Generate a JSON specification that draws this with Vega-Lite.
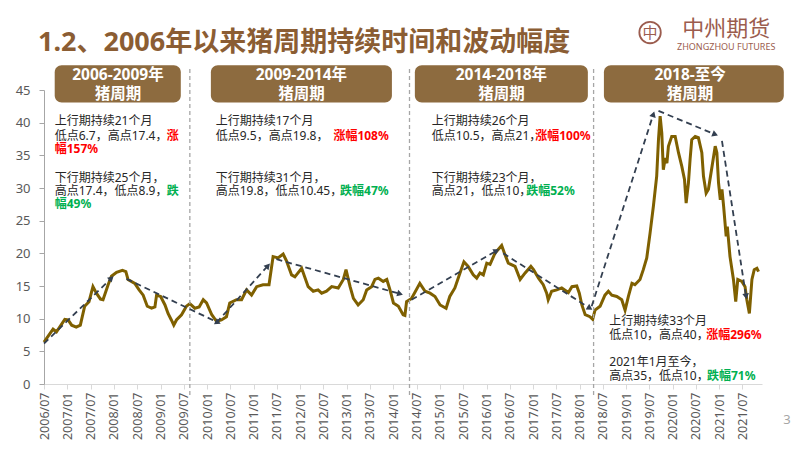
{
  "$schema": "https://vega.github.io/schema/vega-lite/v6.json",
  "width": 718,
  "height": 294,
  "autosize": {"type": "none"},
  "padding": {"left": 44, "top": 90, "right": 40, "bottom": 67},
  "background": "white",
  "config": {"view": {"stroke": null}, "font": "Noto Sans, Noto Sans CJK SC"},
  "title": {"text": "1.2、2006年以来猪周期持续时间和波动幅度", "anchor": "start", "frame": "group", "dx": -6, "offset": -52, "fontSize": 27, "fontWeight": "bold", "color": "#8B5D33", "font": "Noto Sans, Noto Sans CJK SC", "baseline": "middle"},
  "datasets": {
    "price": [
      {"d":"2006-07-01","v":6.4},{"d":"2006-09-10","v":8.4},{"d":"2006-10-07","v":8.0},{"d":"2006-12-11","v":9.9},
      {"d":"2007-01-06","v":9.8},{"d":"2007-02-03","v":9.0},{"d":"2007-03-11","v":8.7},{"d":"2007-04-12","v":9.0},
      {"d":"2007-05-16","v":11.9},{"d":"2007-06-19","v":12.6},{"d":"2007-07-20","v":14.9},{"d":"2007-08-16","v":13.9},
      {"d":"2007-09-17","v":13.0},{"d":"2007-10-07","v":12.9},{"d":"2007-11-16","v":15.2},{"d":"2007-12-12","v":16.5},
      {"d":"2008-01-21","v":17.1},{"d":"2008-03-07","v":17.4},{"d":"2008-04-03","v":17.2},{"d":"2008-04-20","v":16.0},
      {"d":"2008-06-12","v":15.4},{"d":"2008-07-16","v":14.4},{"d":"2008-08-17","v":13.6},{"d":"2008-09-18","v":11.9},
      {"d":"2008-10-22","v":11.6},{"d":"2008-11-17","v":11.8},{"d":"2008-11-30","v":13.6},{"d":"2009-01-01","v":13.4},
      {"d":"2009-02-04","v":12.1},{"d":"2009-02-28","v":10.8},{"d":"2009-03-26","v":9.8},{"d":"2009-04-14","v":9.0},
      {"d":"2009-05-05","v":9.8},{"d":"2009-06-14","v":10.6},{"d":"2009-07-22","v":11.9},{"d":"2009-08-18","v":12.3},
      {"d":"2009-09-26","v":11.6},{"d":"2009-10-30","v":11.8},{"d":"2009-12-01","v":12.9},{"d":"2009-12-27","v":12.4},
      {"d":"2010-02-06","v":10.6},{"d":"2010-03-15","v":9.6},{"d":"2010-04-23","v":9.8},{"d":"2010-06-01","v":10.3},
      {"d":"2010-06-27","v":12.4},{"d":"2010-08-19","v":12.9},{"d":"2010-09-28","v":12.9},{"d":"2010-11-06","v":14.4},
      {"d":"2010-12-15","v":13.6},{"d":"2011-01-24","v":14.9},{"d":"2011-03-15","v":15.2},{"d":"2011-05-01","v":15.2},
      {"d":"2011-06-02","v":19.5},{"d":"2011-07-11","v":19.3},{"d":"2011-08-20","v":19.9},{"d":"2011-09-16","v":18.8},
      {"d":"2011-10-25","v":16.7},{"d":"2011-11-20","v":16.4},{"d":"2012-01-12","v":17.7},{"d":"2012-03-03","v":14.9},
      {"d":"2012-04-12","v":14.2},{"d":"2012-05-20","v":14.4},{"d":"2012-06-17","v":13.9},{"d":"2012-07-25","v":14.2},
      {"d":"2012-09-04","v":14.9},{"d":"2012-10-25","v":14.7},{"d":"2012-12-04","v":16.0},{"d":"2012-12-25","v":17.5},
      {"d":"2013-01-26","v":14.9},{"d":"2013-02-21","v":13.1},{"d":"2013-03-30","v":12.1},{"d":"2013-05-09","v":12.9},
      {"d":"2013-06-05","v":14.4},{"d":"2013-07-14","v":14.9},{"d":"2013-08-09","v":16.0},{"d":"2013-09-05","v":16.2},
      {"d":"2013-10-13","v":15.7},{"d":"2013-11-10","v":16.0},{"d":"2013-12-05","v":14.4},{"d":"2014-01-01","v":12.4},
      {"d":"2014-02-09","v":11.9},{"d":"2014-03-18","v":10.6},{"d":"2014-04-01","v":10.5},{"d":"2014-04-14","v":12.6},
      {"d":"2014-05-23","v":13.1},{"d":"2014-07-27","v":15.4},{"d":"2014-09-06","v":14.2},{"d":"2014-10-15","v":13.9},
      {"d":"2014-11-23","v":13.4},{"d":"2015-01-02","v":12.1},{"d":"2015-02-18","v":11.6},{"d":"2015-03-19","v":13.4},
      {"d":"2015-04-28","v":14.7},{"d":"2015-06-07","v":17.0},{"d":"2015-07-08","v":18.7},{"d":"2015-08-10","v":18.0},
      {"d":"2015-09-19","v":16.7},{"d":"2015-10-16","v":16.2},{"d":"2015-11-11","v":17.0},{"d":"2015-12-07","v":16.7},
      {"d":"2016-01-03","v":18.5},{"d":"2016-01-29","v":18.3},{"d":"2016-03-07","v":20.0},{"d":"2016-04-29","v":21.2},
      {"d":"2016-05-25","v":19.8},{"d":"2016-06-20","v":18.5},{"d":"2016-08-12","v":18.0},{"d":"2016-09-21","v":16.0},
      {"d":"2016-10-30","v":17.0},{"d":"2016-12-14","v":18.0},{"d":"2017-01-04","v":17.5},{"d":"2017-02-12","v":16.2},
      {"d":"2017-03-21","v":15.2},{"d":"2017-04-17","v":13.9},{"d":"2017-04-29","v":12.9},{"d":"2017-05-26","v":14.2},
      {"d":"2017-07-05","v":14.4},{"d":"2017-08-13","v":14.7},{"d":"2017-10-04","v":14.0},{"d":"2017-11-01","v":14.9},
      {"d":"2017-12-09","v":15.0},{"d":"2017-12-29","v":13.9},{"d":"2018-01-18","v":12.1},{"d":"2018-02-13","v":10.6},
      {"d":"2018-03-22","v":10.3},{"d":"2018-04-13","v":9.9},{"d":"2018-05-01","v":11.3},{"d":"2018-06-10","v":11.9},
      {"d":"2018-07-18","v":13.6},{"d":"2018-08-14","v":14.2},{"d":"2018-09-10","v":13.6},{"d":"2018-10-19","v":13.4},
      {"d":"2018-11-27","v":12.9},{"d":"2018-12-23","v":11.3},{"d":"2019-01-18","v":13.4},{"d":"2019-02-15","v":15.4},
      {"d":"2019-03-10","v":15.2},{"d":"2019-04-19","v":16.0},{"d":"2019-05-15","v":17.5},{"d":"2019-06-11","v":19.3},
      {"d":"2019-07-07","v":23.1},{"d":"2019-08-02","v":27.2},{"d":"2019-08-28","v":31.8},{"d":"2019-09-11","v":37.4},
      {"d":"2019-09-24","v":41.0},{"d":"2019-10-07","v":38.4},{"d":"2019-10-19","v":32.8},{"d":"2019-11-03","v":34.6},
      {"d":"2019-11-16","v":33.8},{"d":"2019-11-28","v":36.4},{"d":"2019-12-24","v":37.9},{"d":"2020-01-20","v":37.9},
      {"d":"2020-02-15","v":35.4},{"d":"2020-03-12","v":33.3},{"d":"2020-04-02","v":31.3},{"d":"2020-04-15","v":27.7},
      {"d":"2020-05-03","v":30.8},{"d":"2020-05-16","v":34.4},{"d":"2020-05-29","v":37.4},{"d":"2020-06-25","v":37.9},
      {"d":"2020-07-20","v":37.7},{"d":"2020-08-16","v":35.4},{"d":"2020-08-29","v":31.8},{"d":"2020-09-19","v":29.2},
      {"d":"2020-10-07","v":29.8},{"d":"2020-11-04","v":33.3},{"d":"2020-11-29","v":36.4},{"d":"2020-12-12","v":35.4},
      {"d":"2020-12-25","v":30.8},{"d":"2021-01-08","v":28.2},{"d":"2021-01-21","v":29.8},{"d":"2021-02-03","v":27.2},
      {"d":"2021-02-23","v":22.6},{"d":"2021-03-04","v":24.1},{"d":"2021-03-25","v":19.5},{"d":"2021-04-21","v":16.0},
      {"d":"2021-05-09","v":12.6},{"d":"2021-05-25","v":16.0},{"d":"2021-06-26","v":15.7},{"d":"2021-07-21","v":14.9},
      {"d":"2021-08-04","v":12.9},{"d":"2021-08-24","v":10.8},{"d":"2021-09-13","v":16.0},{"d":"2021-10-01","v":17.5},
      {"d":"2021-10-22","v":17.7},{"d":"2021-11-04","v":17.2}
    ],
    "arrows": [
      {"d1":"2006-07-01","v1":6.2,"d2":"2007-12-12","v2":16.2,"ang":46.7},
      {"d1":"2008-04-08","v1":16.1,"d2":"2010-03-27","v2":9.4,"ang":115.4},
      {"d1":"2010-03-15","v1":9.4,"d2":"2011-04-23","v2":18.1,"ang":42.3},
      {"d1":"2011-06-28","v1":19.1,"d2":"2014-02-22","v2":13.8,"ang":105.8},
      {"d1":"2014-05-23","v1":12.9,"d2":"2016-03-20","v2":20.4,"ang":59.9},
      {"d1":"2016-05-11","v1":20.0,"d2":"2018-03-22","v2":11.6,"ang":122.4},
      {"d1":"2018-04-05","v1":11.9,"d2":"2019-08-02","v2":41.3,"ang":17.8},
      {"d1":"2019-09-11","v1":41.8,"d2":"2020-11-29","v2":38.2,"ang":112.3},
      {"d1":"2021-01-21","v1":37.2,"d2":"2021-07-29","v2":13.4,"ang":171.1}
    ],
    "separators": [{"d":"2009-08-18"},{"d":"2014-05-07"},{"d":"2018-04-20"}],
    "headers": [
      {"a":"2006-09-23","b":"2009-06-08","c":"2008-02-01","l1":"2006-2009年","l2":"猪周期"},
      {"a":"2010-01-30","b":"2013-12-20","c":"2012-01-10","l1":"2009-2014年","l2":"猪周期"},
      {"a":"2014-06-18","b":"2018-03-06","c":"2016-04-27","l1":"2014-2018年","l2":"猪周期"},
      {"a":"2018-07-10","b":"2022-05-21","c":"2020-05-16","l1":"2018-至今","l2":"猪周期"}
    ],
    "notes": [
      {"d":"2006-09-23","v":40.2,"t":"上行期持续21个月","k":"n"},
      {"d":"2006-09-23","v":37.9,"t":"低点6.7，高点17.4，","k":"n"},
      {"d":"2009-02-17","v":37.9,"t":"涨","k":"up"},
      {"d":"2006-09-23","v":35.9,"t":"幅157%","k":"up"},
      {"d":"2006-09-23","v":31.5,"t":"下行期持续25个月，","k":"n"},
      {"d":"2006-09-23","v":29.5,"t":"高点17.4，低点8.9，","k":"n"},
      {"d":"2009-02-17","v":29.5,"t":"跌","k":"down"},
      {"d":"2006-09-23","v":27.5,"t":"幅49%","k":"down"},
      {"d":"2010-03-09","v":40.2,"t":"上行期持续17个月","k":"n"},
      {"d":"2010-03-09","v":37.9,"t":"低点9.5，高点19.8，","k":"n"},
      {"d":"2012-09-17","v":37.9,"t":"涨幅108%","k":"up"},
      {"d":"2010-03-09","v":31.5,"t":"下行期持续31个月，","k":"n"},
      {"d":"2010-03-09","v":29.5,"t":"高点19.8，低点10.45，","k":"n"},
      {"d":"2012-11-08","v":29.5,"t":"跌幅47%","k":"down"},
      {"d":"2014-10-29","v":40.2,"t":"上行期持续26个月","k":"n"},
      {"d":"2014-10-29","v":37.9,"t":"低点10.5，高点21，","k":"n"},
      {"d":"2017-01-17","v":37.9,"t":"涨幅100%","k":"up"},
      {"d":"2014-10-29","v":31.5,"t":"下行期持续23个月，","k":"n"},
      {"d":"2014-10-29","v":29.5,"t":"高点21，低点10，","k":"n"},
      {"d":"2016-11-07","v":29.5,"t":"跌幅52%","k":"down"},
      {"d":"2018-08-21","v":9.7,"t":"上行期持续33个月","k":"n"},
      {"d":"2018-08-21","v":7.5,"t":"低点10，高点40，","k":"n"},
      {"d":"2020-09-19","v":7.5,"t":"涨幅296%","k":"up"},
      {"d":"2018-08-21","v":3.3,"t":"2021年1月至今，","k":"n"},
      {"d":"2018-08-21","v":1.2,"t":"高点35，低点10，","k":"n"},
      {"d":"2020-09-25","v":1.2,"t":"跌幅71%","k":"down"}
    ],
    "logo": [{"d":"2019-07-07","v":53.8,"g":"中","n":"中州期货","e":"ZHONGZHOU FUTURES","dn":"2021-02-23","vn":54.3,"ve":51.6}],
    "page": [{"d":"2022-06-15","v":-5.5,"t":"3"}]
  },
  "layer": [
    {
      "data": {"name": "price"},
      "mark": {"type": "line", "color": "#7F6000", "strokeWidth": 3},
      "encoding": {
        "x": {
          "field": "d", "type": "temporal", "title": null,
          "scale": {"type": "utc", "domain": [{"year": 2006, "month": 7, "date": 1, "utc": true}, {"year": 2021, "month": 12, "date": 1, "utc": true}]},
          "axis": {"labelExpr": "utcFormat(datum.value, '%Y/%m')", "tickCount": {"interval": "month", "step": 6}, "labelAngle": -90, "labelOverlap": false, "labelFontSize": 12.5, "labelColor": "#595959", "labelFont": "Noto Sans", "domainColor": "#D9D9D9", "tickColor": "#D9D9D9", "tickSize": 5, "labelPadding": 3, "grid": false, "labelFlush": false}
        },
        "y": {
          "field": "v", "type": "quantitative", "title": null,
          "scale": {"domain": [0, 45], "nice": false},
          "axis": {"values": [0, 5, 10, 15, 20, 25, 30, 35, 40, 45], "tickCount": 10, "labelOverlap": false, "labelFontSize": 13, "labelColor": "#595959", "labelFont": "Noto Sans", "domainColor": "#A6A6A6", "tickColor": "#A6A6A6", "tickSize": 5, "labelPadding": 9, "grid": false}
        }
      }
    },
    {
      "data": {"name": "separators"},
      "mark": {"type": "rule", "color": "#A6A6A6", "strokeWidth": 1.3, "strokeDash": [4, 3]},
      "encoding": {
        "x": {"field": "d", "type": "temporal", "title": null},
        "y": {"datum": 48.2, "type": "quantitative", "title": null},
        "y2": {"datum": -2.1}
      }
    },
    {
      "data": {"name": "headers"},
      "mark": {"type": "rect", "color": "#8D6B3F", "cornerRadius": 7},
      "encoding": {
        "x": {"field": "a", "type": "temporal", "title": null},
        "x2": {"field": "b"},
        "y": {"datum": 48.8, "type": "quantitative", "title": null},
        "y2": {"datum": 43.1}
      }
    },
    {
      "data": {"name": "headers"},
      "mark": {"type": "text", "color": "white", "fontSize": 15.5, "fontWeight": "bold", "baseline": "middle", "align": "center"},
      "encoding": {
        "x": {"field": "c", "type": "temporal", "title": null},
        "y": {"datum": 47.25, "type": "quantitative", "title": null},
        "text": {"field": "l1"}
      }
    },
    {
      "data": {"name": "headers"},
      "mark": {"type": "text", "color": "white", "fontSize": 15.5, "fontWeight": "bold", "baseline": "middle", "align": "center"},
      "encoding": {
        "x": {"field": "c", "type": "temporal", "title": null},
        "y": {"datum": 44.35, "type": "quantitative", "title": null},
        "text": {"field": "l2"}
      }
    },
    {
      "data": {"name": "arrows"},
      "mark": {"type": "rule", "color": "#333F50", "strokeWidth": 1.8, "strokeDash": [6, 4]},
      "encoding": {
        "x": {"field": "d1", "type": "temporal", "title": null},
        "x2": {"field": "d2"},
        "y": {"field": "v1", "type": "quantitative", "title": null},
        "y2": {"field": "v2"}
      }
    },
    {
      "data": {"name": "arrows"},
      "mark": {"type": "point", "shape": "triangle-up", "filled": true, "color": "#333F50", "size": 45, "opacity": 1},
      "encoding": {
        "x": {"field": "d2", "type": "temporal", "title": null},
        "y": {"field": "v2", "type": "quantitative", "title": null},
        "angle": {"field": "ang", "type": "quantitative", "scale": null}
      }
    },
    {
      "data": {"name": "notes"},
      "transform": [{"filter": "datum.k == 'n'"}],
      "mark": {"type": "text", "color": "#262626", "fontSize": 12, "align": "left", "baseline": "middle"},
      "encoding": {
        "x": {"field": "d", "type": "temporal", "title": null},
        "y": {"field": "v", "type": "quantitative", "title": null},
        "text": {"field": "t"}
      }
    },
    {
      "data": {"name": "notes"},
      "transform": [{"filter": "datum.k != 'n'"}],
      "mark": {"type": "text", "fontSize": 12, "fontWeight": "bold", "align": "left", "baseline": "middle"},
      "encoding": {
        "x": {"field": "d", "type": "temporal", "title": null},
        "y": {"field": "v", "type": "quantitative", "title": null},
        "text": {"field": "t"},
        "color": {"field": "k", "type": "nominal", "scale": {"domain": ["up", "down"], "range": ["#FF0000", "#00B050"]}, "legend": null}
      }
    },
    {
      "data": {"name": "logo"},
      "mark": {"type": "point", "shape": "circle", "filled": false, "color": "#9B5C4E", "strokeWidth": 1.8, "size": 460, "opacity": 1},
      "encoding": {
        "x": {"field": "d", "type": "temporal", "title": null},
        "y": {"field": "v", "type": "quantitative", "title": null}
      }
    },
    {
      "data": {"name": "logo"},
      "mark": {"type": "text", "color": "#9B5C4E", "fontSize": 15, "align": "center", "baseline": "middle"},
      "encoding": {
        "x": {"field": "d", "type": "temporal", "title": null},
        "y": {"field": "v", "type": "quantitative", "title": null},
        "text": {"field": "g"}
      }
    },
    {
      "data": {"name": "logo"},
      "mark": {"type": "text", "color": "#9B5C4E", "fontSize": 22, "align": "center", "baseline": "middle"},
      "encoding": {
        "x": {"field": "dn", "type": "temporal", "title": null},
        "y": {"field": "vn", "type": "quantitative", "title": null},
        "text": {"field": "n"}
      }
    },
    {
      "data": {"name": "logo"},
      "mark": {"type": "text", "color": "#9B5C4E", "fontSize": 9, "font": "Noto Sans", "align": "center", "baseline": "middle"},
      "encoding": {
        "x": {"field": "dn", "type": "temporal", "title": null},
        "y": {"field": "ve", "type": "quantitative", "title": null},
        "text": {"field": "e"}
      }
    },
    {
      "data": {"name": "page"},
      "mark": {"type": "text", "color": "#A6A6A6", "fontSize": 13, "font": "Noto Sans", "align": "center", "baseline": "middle"},
      "encoding": {
        "x": {"field": "d", "type": "temporal", "title": null},
        "y": {"field": "v", "type": "quantitative", "title": null},
        "text": {"field": "t"}
      }
    }
  ]
}
